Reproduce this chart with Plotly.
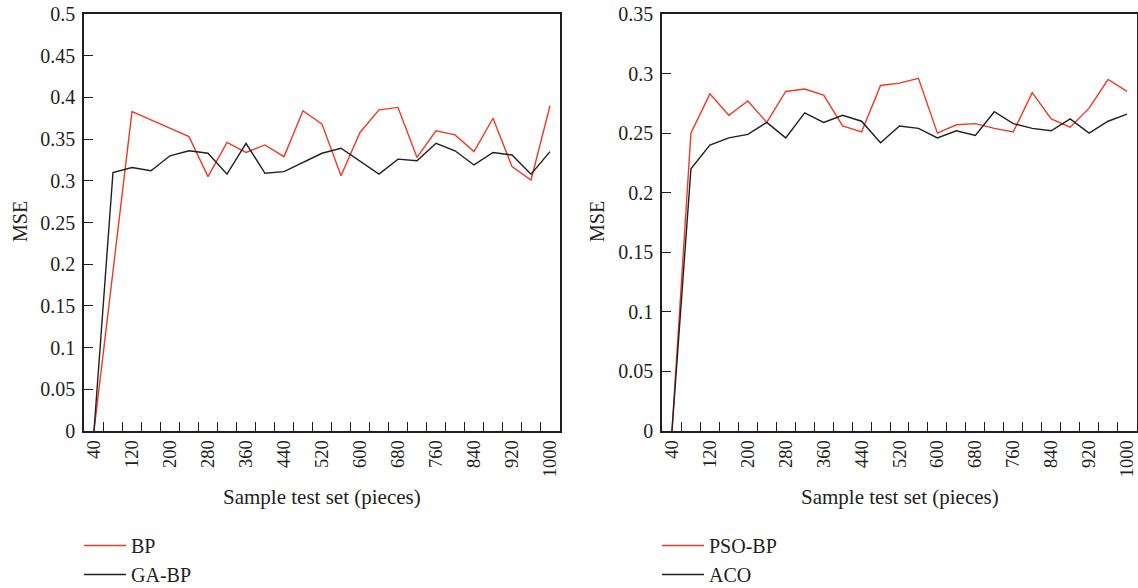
import plotly.graph_objects as go

samples = [40, 80, 120, 160, 200, 240, 280, 320, 360, 400, 440, 480, 520,
           560, 600, 640, 680, 720, 760, 800, 840, 880, 920, 960, 1000]
tick_labels = [40, 120, 200, 280, 360, 440, 520, 600, 680, 760, 840, 920, 1000]

bp = [0.0, 0.19, 0.383, 0.373, 0.363, 0.353, 0.305, 0.346, 0.334, 0.343, 0.329, 0.384, 0.368,
      0.306, 0.358, 0.385, 0.388, 0.328, 0.360, 0.355, 0.335, 0.375, 0.317, 0.301, 0.390]
ga_bp = [0.0, 0.310, 0.316, 0.312, 0.330, 0.336, 0.333, 0.308, 0.345, 0.309, 0.311, 0.322, 0.333,
         0.339, 0.324, 0.308, 0.326, 0.324, 0.345, 0.336, 0.319, 0.334, 0.331, 0.308, 0.335]
pso_bp = [0.0, 0.250, 0.283, 0.265, 0.277, 0.259, 0.285, 0.287, 0.282, 0.256, 0.251, 0.290, 0.292,
          0.296, 0.250, 0.257, 0.258, 0.254, 0.251, 0.284, 0.262, 0.255, 0.271, 0.295, 0.285]
aco = [0.0, 0.220, 0.240, 0.246, 0.249, 0.259, 0.246, 0.267, 0.259, 0.265, 0.260, 0.242, 0.256,
       0.254, 0.246, 0.252, 0.248, 0.268, 0.258, 0.254, 0.252, 0.262, 0.250, 0.260, 0.266]

RED = "#ee3a24"
BLACK = "#231f20"
FONT = "Liberation Serif"
W, H = 1138, 588

fig = go.Figure()
fig.add_trace(go.Scatter(x=samples, y=bp, mode="lines", name="BP",
                         line=dict(color=RED, width=1.4), xaxis="x", yaxis="y",
                         legend="legend"))
fig.add_trace(go.Scatter(x=samples, y=ga_bp, mode="lines", name="GA-BP",
                         line=dict(color=BLACK, width=1.4), xaxis="x", yaxis="y",
                         legend="legend"))
fig.add_trace(go.Scatter(x=samples, y=pso_bp, mode="lines", name="PSO-BP",
                         line=dict(color=RED, width=1.4), xaxis="x2", yaxis="y2",
                         legend="legend2"))
fig.add_trace(go.Scatter(x=samples, y=aco, mode="lines", name="ACO",
                         line=dict(color=BLACK, width=1.4), xaxis="x2", yaxis="y2",
                         legend="legend2"))

minor_vals = [s + 20 for s in samples[:-1]]

def xaxis(domain, anchor):
    return dict(domain=domain, anchor=anchor, range=[19, 1021],
                tickmode="array", tickvals=tick_labels,
                ticktext=[str(t) for t in tick_labels],
                tickangle=-90, ticks="", showgrid=False, zeroline=False,
                showline=True, linecolor=BLACK, linewidth=1.5, mirror=True,
                automargin=False,
                tickfont=dict(family=FONT, size=18.5, color=BLACK),
                minor=dict(tickmode="array", tickvals=minor_vals, ticks="inside",
                           ticklen=9, tickwidth=1.2, tickcolor=BLACK, showgrid=False))

def yaxis(domain, anchor, top):
    return dict(domain=domain, anchor=anchor, range=[0, top], dtick=0.05,
                ticks="inside", ticklen=9, tickwidth=1.2, tickcolor=BLACK,
                showgrid=False, zeroline=False, showline=True, linecolor=BLACK,
                linewidth=1.5, mirror=True, automargin=False, ticklabelstandoff=3,
                tickfont=dict(family=FONT, size=20, color=BLACK))

ydom = [1 - 431 / H, 1 - 14 / H]
xdom1 = [84 / W, 560 / W]
xdom2 = [662 / W, 1137 / W]

legend_common = dict(yanchor="bottom", y=-6 / H, xanchor="left",
                     font=dict(family=FONT, size=20, color=BLACK),
                     itemwidth=42, bgcolor="rgba(0,0,0,0)", borderwidth=0)

fig.update_layout(
    width=W, height=H, margin=dict(l=0, r=0, t=0, b=0, autoexpand=False),
    paper_bgcolor="white", plot_bgcolor="white",
    font=dict(family=FONT, size=18, color=BLACK),
    xaxis=xaxis(xdom1, "y"), yaxis=yaxis(ydom, "x", 0.5),
    xaxis2=xaxis(xdom2, "y2"), yaxis2=yaxis(ydom, "x2", 0.35),
    legend=dict(x=(84 - 5) / W, **legend_common),
    legend2=dict(x=(662 - 5) / W, **legend_common),
    showlegend=True,
)

for cx in [(xdom1[0] + xdom1[1]) / 2, (xdom2[0] + xdom2[1]) / 2]:
    fig.add_annotation(text="Sample test set (pieces)", x=cx, y=1 - 497 / H,
                       xref="paper", yref="paper", showarrow=False,
                       xanchor="center", yanchor="middle",
                       font=dict(family=FONT, size=21, color=BLACK))
for mx in [20, 597]:
    fig.add_annotation(text="MSE", x=mx / W, y=1 - 222 / H, textangle=-90,
                       xref="paper", yref="paper", showarrow=False,
                       xanchor="center", yanchor="middle",
                       font=dict(family=FONT, size=20, color=BLACK))

fig.write_html("out.html")
